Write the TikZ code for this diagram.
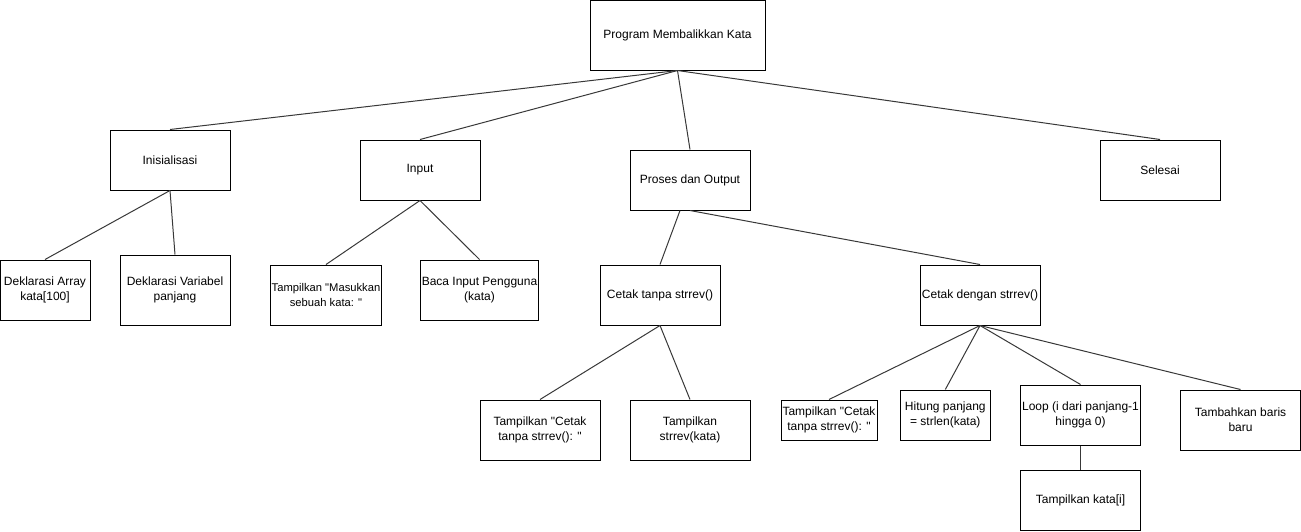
\documentclass[tikz,border=0pt]{standalone}
\usepackage{fontspec}
\setmainfont{Liberation Sans}[Ligatures=TeXOff]
\begin{document}
\begin{tikzpicture}[
    x=1pt, y=-1pt,
    tbox/.style={rectangle, draw=black, line width=1pt, align=center,
                 inner sep=1pt, minimum width=120pt, minimum height=60pt,
                 font=\fontsize{12}{15}\selectfont},
    conn/.style={draw=black!78, line width=1pt},
  ]
  \useasboundingbox (0,0) rectangle (1301,531);

  % --- root ---
  \node[tbox, minimum width=175pt, minimum height=70pt] (prog) at (677.5,35) {Program Membalikkan Kata};

  % --- level 1 ---
  \node[tbox] (init)    at (170,160)  {Inisialisasi};
  \node[tbox] (inp)     at (420,170)  {Input};
  \node[tbox] (proses)  at (690,180)  {Proses dan Output};
  \node[tbox] (selesai) at (1160,170) {Selesai};

  \draw[conn] (prog.south) -- (init.north);
  \draw[conn] (prog.south) -- (inp.north);
  \draw[conn] (prog.south) -- (proses.north);
  \draw[conn] (prog.south) -- (selesai.north);

  % --- Inisialisasi ---
  \node[tbox, minimum width=90pt]  (arr) at (45,290)  {Deklarasi Array\\kata[100]};
  \node[tbox, minimum width=110pt, minimum height=70pt] (var) at (175,290) {Deklarasi Variabel\\panjang};

  \draw[conn] (init.south) -- (arr.north);
  \draw[conn] (init.south) -- (var.north);

  % --- Input ---
  \node[tbox, minimum width=110pt, font=\fontsize{11.2}{15}\selectfont] (tmasuk) at (326,295) {Tampilkan "Masukkan\\sebuah kata: "};
  \node[tbox, minimum width=118pt] (baca) at (479.5,290) {Baca Input Pengguna\\(kata)};

  \draw[conn] (inp.south) -- (tmasuk.north);
  \draw[conn] (inp.south) -- (baca.north);

  % --- Proses dan Output ---
  \node[tbox] (ctanpa)  at (660,295) {Cetak tanpa strrev()};
  \node[tbox] (cdengan) at (980,295) {Cetak dengan strrev()};

  \draw[conn] ([xshift=-10pt]proses.south) -- (ctanpa.north);
  \draw[conn] (proses.south) -- (cdengan.north);

  % --- Cetak tanpa strrev() ---
  \node[tbox] (tcetaka) at (540,430) {Tampilkan "Cetak\\tanpa strrev(): "};
  \node[tbox] (tstrrev) at (690,430) {Tampilkan\\strrev(kata)};

  \draw[conn] (ctanpa.south) -- (tcetaka.north);
  \draw[conn] (ctanpa.south) -- (tstrrev.north);

  % --- Cetak dengan strrev() ---
  \node[tbox, minimum width=96pt, minimum height=40pt] (tcetakb) at (829,420) {Tampilkan "Cetak\\tanpa strrev(): "};
  \node[tbox, minimum width=90pt, minimum height=50pt] (hitung)  at (945.3,415) {Hitung panjang\\= strlen(kata)};
  \node[tbox] (loop)   at (1080.5,415) {Loop (i dari panjang-1\\hingga 0)};
  \node[tbox] (tambah) at (1240.5,420) {Tambahkan baris\\baru};
  \node[tbox] (tkata)  at (1080.5,500) {Tampilkan kata[i]};

  \draw[conn] (cdengan.south) -- (tcetakb.north);
  \draw[conn] (cdengan.south) -- (hitung.north);
  \draw[conn] (cdengan.south) -- (loop.north);
  \draw[conn] (cdengan.south) -- (tambah.north);
  \draw[conn] (loop.south) -- (tkata.north);

\end{tikzpicture}
\end{document}
